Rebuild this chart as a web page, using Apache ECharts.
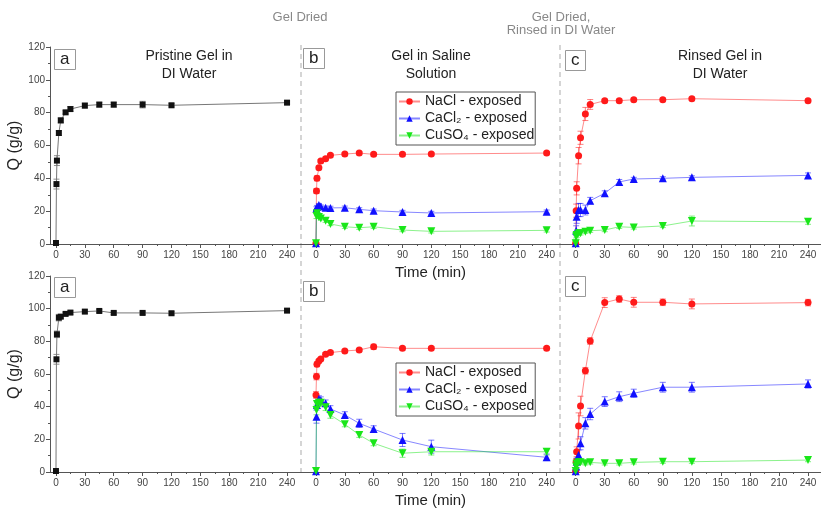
<!DOCTYPE html>
<html>
<head>
<meta charset="utf-8">
<script src="https://cdn.jsdelivr.net/npm/echarts@6/dist/echarts.min.js"></script>
<style>
  html, body { margin: 0; background: #fff; }
  #chart { width: 821px; height: 508px; }
</style>
</head>
<body>
<div id="chart"></div>
<script>
// sampling times (min), shared by every series
const time = [0, 0.5, 1, 3, 5, 10, 15, 30, 45, 60, 90, 120, 240];
const tickValues = [0, 30, 60, 90, 120, 150, 180, 210, 240];
const minorTickValues = [15, 45, 75, 105, 135, 165, 195, 225];
const saltNames = ["NaCl - exposed", "CaCl₂ - exposed", "CuSO₄ - exposed"];

// top row
const pristineTop = [0.6, 36.5, 50.8, 67.6, 75.3, 80.2, 82.2, 84.3, 84.9, 84.9, 84.9, 84.5, 86.1];
const salineNaClTop = [0.5, 32.3, 40.0, 46.5, 50.5, 52.0, 54.0, 54.8, 55.4, 54.6, 54.6, 54.8, 55.4];
const salineCaClTop = [0.5, 21.7, 22.5, 23.7, 22.8, 22.1, 22.0, 22.1, 21.1, 20.3, 19.5, 18.9, 19.7];
const salineCuSOTop = [0.5, 17.0, 18.7, 16.5, 15.6, 14.2, 12.2, 10.5, 9.9, 10.5, 8.5, 7.7, 8.3];
const rinsedNaClTop = [0.5, 20.3, 33.9, 53.8, 64.7, 79.2, 85.0, 87.3, 87.3, 87.9, 87.9, 88.5, 87.3];
const rinsedCaClTop = [0.5, 8.1, 16.6, 20.7, 20.7, 20.7, 26.4, 30.9, 37.8, 39.6, 40.0, 40.6, 41.8];
const rinsedCuSOTop = [0.4, 4.5, 5.5, 6.5, 6.5, 7.5, 8.1, 8.5, 10.5, 10.1, 11.0, 14.0, 13.5];

// top row error bars (±)
const errPristineTop = [0, 3, 3, 1.5, 1.5, 1, 1.5, 1.5, 1.5, 1.5, 2, 1, 1];
const errSalineNaClTop = [0, 1.5, 1.5, 1, 1, 1, 1, 1, 1, 1, 1, 1, 1];
const errSalineCaClTop = [0, 1, 1, 1, 1, 1, 1, 1, 1, 1, 1, 1, 1];
const errSalineCuSOTop = [0, 1.5, 1.5, 1, 1, 1, 1, 1, 1, 1, 1, 1, 1];
const errRinsedNaClTop = [0, 4, 4, 5, 4, 4, 3, 1, 1, 1, 1, 1, 1];
const errRinsedCaClTop = [0, 3, 4, 4, 4, 3, 2, 1.5, 1.5, 1, 1, 1, 1.5];
const errRinsedCuSOTop = [0, 1.5, 1.5, 1, 1, 1, 1, 1, 1, 1, 1, 3, 1.5];

// bottom row
const pristineBottom = [0.6, 69.0, 84.3, 94.5, 95.1, 96.8, 97.6, 98.2, 98.6, 97.4, 97.4, 97.2, 98.8];
const salineNaClBottom = [47.2, 58.4, 66.0, 68.0, 69.2, 72.1, 73.1, 74.1, 74.7, 76.7, 75.7, 75.7, 75.7];
const salineCaClBottom = [0.5, 33.9, 41.0, 44.7, 44.0, 42.1, 38.6, 34.9, 29.8, 26.3, 19.6, 15.5, 9.0];
const salineCuSOBottom = [0.6, 38.0, 41.6, 42.4, 42.4, 39.6, 34.9, 29.2, 22.7, 17.6, 11.5, 12.4, 12.4];
const rinsedNaClBottom = [0.5, 6.3, 12.4, 28.2, 40.4, 62.0, 80.2, 103.7, 105.9, 103.9, 103.9, 102.9, 103.7];
const rinsedCaClBottom = [0.5, 3.3, 6.5, 10.4, 17.6, 29.8, 35.5, 43.1, 46.1, 48.2, 51.9, 51.9, 53.9];
const rinsedCuSOBottom = [0.6, 3.3, 5.0, 5.9, 5.9, 5.3, 5.9, 5.3, 5.3, 5.9, 6.3, 6.3, 7.3];

// bottom row error bars (±)
const errPristineBottom = [0, 3, 2, 2, 1, 1, 1, 1, 1, 1, 1, 1, 1];
const errSalineNaClBottom = [2, 2, 1.5, 1, 1, 1, 1, 1, 1, 1.5, 1, 1, 1];
const errSalineCaClBottom = [0, 4, 2, 2, 2, 2, 2, 2, 2.5, 2, 4, 4, 2];
const errSalineCuSOBottom = [0, 3, 2, 2, 2, 2, 2, 1.5, 1.5, 1.5, 2.5, 2, 2];
const errRinsedNaClBottom = [0, 2, 3, 8, 6, 2, 2, 3, 2, 3, 2, 3, 2];
const errRinsedCaClBottom = [0, 1.5, 2, 3, 4, 3.5, 3.5, 3, 3, 2.5, 3, 3, 2.5];
const errRinsedCuSOBottom = [0, 1, 1, 1, 1, 1, 1, 1, 1, 1, 1, 1, 1];

const FONT = "'Liberation Sans', Arial, sans-serif";
const rows = [
  { top: 47, bottom: 264, legendTop: 92,
    pristine: [pristineTop, errPristineTop],
    saline: [[salineNaClTop, errSalineNaClTop], [salineCaClTop, errSalineCaClTop], [salineCuSOTop, errSalineCuSOTop]],
    rinsed: [[rinsedNaClTop, errRinsedNaClTop], [rinsedCaClTop, errRinsedCaClTop], [rinsedCuSOTop, errRinsedCuSOTop]] },
  { top: 276, bottom: 36, legendTop: 363,
    pristine: [pristineBottom, errPristineBottom],
    saline: [[salineNaClBottom, errSalineNaClBottom], [salineCaClBottom, errSalineCaClBottom], [salineCuSOBottom, errSalineCuSOBottom]],
    rinsed: [[rinsedNaClBottom, errRinsedNaClBottom], [rinsedCaClBottom, errRinsedCaClBottom], [rinsedCuSOBottom, errRinsedCuSOBottom]] }
];
const panels = [
  { left: 50, right: 520, min: -6.2, max: 254.5 },
  { left: 301, right: 261, min: -15.6, max: 253.9 },
  { left: 560, right: 0, min: -16.2, max: 253.4 }
];
const saltStyle = [
  { color: "#ff1a1a", symbol: "circle", size: 7, rotate: 0 },
  { color: "#1010ff", symbol: "triangle", size: 8, rotate: 0 },
  { color: "#19e619", symbol: "triangle", size: 8, rotate: 180 }
];
const axisColor = "#555";

function errorBars(vals, errs, axis, color) {
  return {
    type: "custom", xAxisIndex: axis, yAxisIndex: axis, silent: true, z: 1,
    data: time.map((t, i) => [t, vals[i] - errs[i], vals[i] + errs[i]]).filter((d, i) => errs[i] > 0),
    encode: { x: 0, y: [1, 2] },
    renderItem: (params, api) => {
      const lo = api.coord([api.value(0), api.value(1)]);
      const hi = api.coord([api.value(0), api.value(2)]);
      const st = { stroke: color, lineWidth: 1, opacity: 0.55 };
      return { type: "group", children: [
        { type: "line", shape: { x1: lo[0], y1: lo[1], x2: hi[0], y2: hi[1] }, style: st },
        { type: "line", shape: { x1: lo[0] - 3, y1: lo[1], x2: lo[0] + 3, y2: lo[1] }, style: st },
        { type: "line", shape: { x1: hi[0] - 3, y1: hi[1], x2: hi[0] + 3, y2: hi[1] }, style: st }
      ] };
    }
  };
}

const grids = [], xAxes = [], minorAxes = [], yAxes = [], series = [];
rows.forEach((r, ri) => {
  panels.forEach((p, pi) => {
    const g = ri * 3 + pi;
    grids.push({ left: p.left, right: p.right, top: r.top, bottom: r.bottom, outerBoundsMode: "none" });
    xAxes.push({
      type: "value", gridIndex: g, min: p.min, max: p.max,
      axisLine: { show: true, onZero: false, lineStyle: { color: axisColor } },
      axisTick: { show: true, length: 4, customValues: tickValues, lineStyle: { color: axisColor } },
      axisLabel: { customValues: tickValues, fontSize: 10, color: "#444", margin: 6, fontFamily: FONT },
      splitLine: { show: false },
      name: pi === 1 ? "Time (min)" : "", nameLocation: "middle", nameGap: 21,
      nameTextStyle: { fontSize: 15, color: "#222", fontFamily: FONT }
    });
    minorAxes.push({
      type: "value", gridIndex: g, min: p.min, max: p.max, position: "bottom",
      axisLine: { show: false, onZero: false }, axisLabel: { show: false }, splitLine: { show: false },
      axisTick: { show: true, length: 2, customValues: minorTickValues, lineStyle: { color: axisColor } }
    });
    if (pi === 0) {
      yAxes.push({
        type: "value", gridIndex: g, min: 0, max: 120, interval: 20,
        axisLine: { show: true, onZero: false, lineStyle: { color: axisColor } },
        axisTick: { show: true, length: 4, lineStyle: { color: axisColor } },
        minorTick: { show: true, splitNumber: 2, length: 2, lineStyle: { color: axisColor } },
        splitLine: { show: false },
        axisLabel: { fontSize: 10, color: "#444", margin: 5, fontFamily: FONT },
        name: "Q (g/g)", nameLocation: "middle", nameGap: 27,
        nameTextStyle: { fontSize: 16, color: "#222", fontFamily: FONT }
      });
    } else {
      yAxes.push({ type: "value", gridIndex: g, min: 0, max: 120, show: false, splitLine: { show: false } });
    }
  });

  const [pv, pe] = r.pristine;
  series.push(errorBars(pv, pe, ri * 3, "#333"));
  series.push({
    type: "line", name: "Pristine", xAxisIndex: ri * 3, yAxisIndex: ri * 3,
    data: time.map((t, i) => [t, pv[i]]),
    symbol: "rect", symbolSize: 6, showAllSymbol: true, z: 2,
    itemStyle: { color: "#111" }, lineStyle: { color: "#777", width: 1 }
  });
  [r.saline, r.rinsed].forEach((set, k) => {
    const ax = ri * 3 + 1 + k;
    set.forEach(([vals, errs], si) => {
      const s = saltStyle[si];
      series.push(errorBars(vals, errs, ax, s.color));
      series.push({
        type: "line", name: saltNames[si], xAxisIndex: ax, yAxisIndex: ax,
        data: time.map((t, i) => [t, vals[i]]), z: 2,
        symbol: s.symbol, symbolSize: s.size, symbolRotate: s.rotate, showAllSymbol: true,
        itemStyle: { color: s.color }, lineStyle: { color: s.color, width: 1, opacity: 0.5 }
      });
    });
  });
});

const boxLabel = (text, left, top) => ({
  text, left, top, padding: [2, 6, 2, 6], borderColor: "#999", borderWidth: 1,
  textStyle: { fontSize: 17, lineHeight: 17, fontWeight: "normal", color: "#222", fontFamily: FONT }
});
const heading = (text, left, top) => ({
  text, left, top, textAlign: "center", padding: 0,
  textStyle: { fontSize: 14, lineHeight: 18, fontWeight: "normal", color: "#222", fontFamily: FONT }
});
const note = (text, left, top) => ({
  text, left, top, textAlign: "center", padding: 0,
  textStyle: { fontSize: 13, lineHeight: 13, fontWeight: "normal", color: "#888", fontFamily: FONT }
});

const chart = echarts.init(document.getElementById("chart"));
chart.setOption({
  animation: false,
  backgroundColor: "#fff",
  textStyle: { fontFamily: FONT },
  title: [
    boxLabel("a", 54, 49), boxLabel("b", 303, 48), boxLabel("c", 565, 50),
    boxLabel("a", 54, 277), boxLabel("b", 303, 281), boxLabel("c", 565, 276),
    heading("Pristine Gel in\nDI Water", 189, 47),
    heading("Gel in Saline\nSolution", 431, 47),
    heading("Rinsed Gel in\nDI Water", 720, 47),
    note("Gel Dried", 300, 11),
    note("Gel Dried,\nRinsed in DI Water", 561, 11)
  ],
  legend: rows.map(r => ({
    data: saltNames, orient: "vertical", left: 396, top: r.legendTop,
    borderColor: "#555", borderWidth: 1, padding: [1, 1, 1, 2], itemGap: 0,
    itemWidth: 21, itemHeight: 8,
    textStyle: { fontSize: 14, lineHeight: 17, color: "#222", fontFamily: FONT }
  })),
  grid: grids,
  xAxis: xAxes.concat(minorAxes),
  yAxis: yAxes,
  graphic: [301, 560].map(x => ({
    type: "line", shape: { x1: x, y1: 45, x2: x, y2: 472 },
    style: { stroke: "#c8c8c8", lineWidth: 1.5, lineDash: [5, 4] }, z: -1
  })),
  series
});
</script>
</body>
</html>
